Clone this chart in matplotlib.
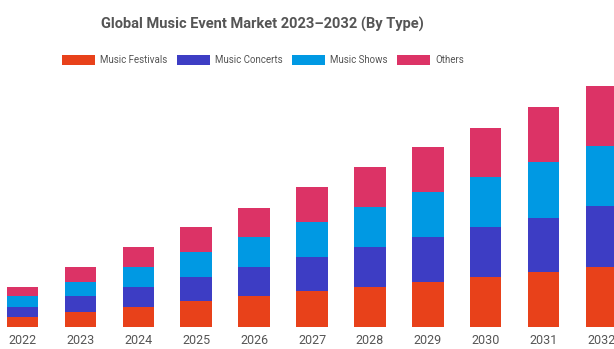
import numpy as np
import matplotlib
matplotlib.use("Agg")
import matplotlib.pyplot as plt

years = ["2022", "2023", "2024", "2025", "2026", "2027",
         "2028", "2029", "2030", "2031", "2032"]

# segment sizes per type (arbitrary market units)
festivals = [10.0, 15.0, 20.0, 25.7, 31.0, 35.7, 40.0, 45.0, 49.4, 54.4, 60.0]
concerts = [10.0, 15.7, 19.3, 24.3, 29.0, 34.3, 40.0, 45.0, 50.0, 54.6, 60.6]
shows = [10.7, 14.3, 20.7, 25.0, 30.0, 34.4, 39.4, 44.4, 50.0, 56.0, 60.6]
others = [9.3, 14.3, 20.0, 25.0, 29.0, 35.0, 40.0, 45.6, 49.6, 54.4, 60.0]

series = [
    ("Music Festivals", festivals, "#E8411A"),
    ("Music Concerts", concerts, "#3D3DC4"),
    ("Music Shows", shows, "#0099E3"),
    ("Others", others, "#DC3366"),
]

plt.rcParams["font.family"] = ["Roboto", "DejaVu Sans"]

fig = plt.figure(figsize=(6.14, 3.49), dpi=100)
ax = fig.add_axes([0, 22.3 / 349, 1, 248 / 349])

x = np.arange(len(years))
bottom = np.zeros(len(years))
handles = []
for name, vals, color in series:
    h = ax.bar(x, vals, width=0.544, bottom=bottom, color=color, label=name)
    handles.append(h)
    bottom += np.array(vals)

ax.set_xlim(-0.389, 10.216)
ax.set_ylim(0, 248)
ax.set_xticks(x)
ax.set_xticklabels(years, fontsize=9, color="#555555")
ax.tick_params(axis="x", length=0, pad=5)
ax.set_yticks([])
for s in ax.spines.values():
    s.set_visible(False)

fig.text(0.428, 0.93, "Global Music Event Market 2023\u20132032 (By Type)",
         ha="center", va="center", fontsize=10.5, fontweight="bold",
         color="#555555")

fig.legend(handles=handles, loc="center", bbox_to_anchor=(0.428, 0.828),
           ncol=4, frameon=False, fontsize=7, labelcolor="#555555",
           handlelength=3.4, handleheight=1.3, handletextpad=0.5,
           columnspacing=1.0)

fig.savefig("out.png", dpi=100)
